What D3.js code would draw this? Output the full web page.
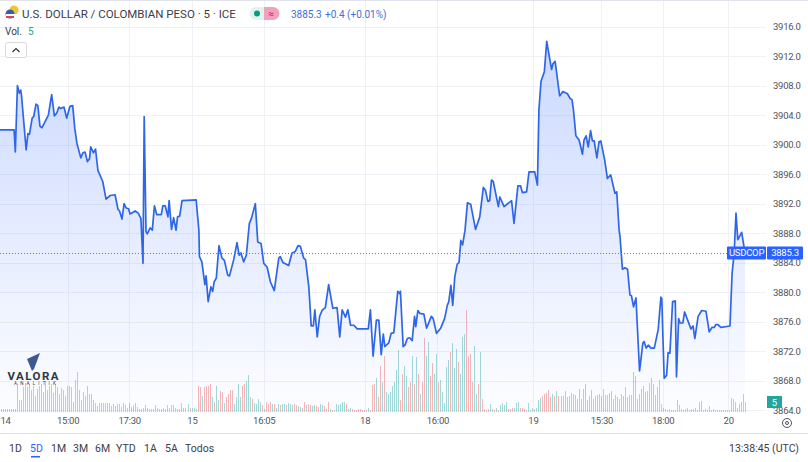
<!DOCTYPE html>
<html>
<head>
<meta charset="utf-8">
<script src="https://cdn.jsdelivr.net/npm/d3@7/dist/d3.min.js"></script>
<style>
html, body { margin: 0; padding: 0; background: #fff; }
svg { display: block; }
text { font-family: Roboto, "Open Sans", sans-serif; fill: #3a3e4a; }
.grid line { stroke: #eff1f6; stroke-width: 1; }
.axis path, .axis line { display: none; }
.axis text { font-size: 9.5px; letter-spacing: -0.25px; fill: #50535e; font-family: Roboto, sans-serif; }
</style>
</head>
<body>
<svg id="chart" width="808" height="462"></svg>
<script>
// close prices, position is counted in slots along the time axis
var priceSlots = [
0,4.7,5.1,5.8,6.4,6.9,7.2,8.7,9.3,9.8,10.7,11.2,12,12.6,13.3,14,16.1,17.2,18.1,18.9,
19.6,20.2,21.3,22.2,23.3,24.2,24.9,25.6,26.9,27.6,28.3,29.1,29.8,30.2,31.1,31.8,32.6,34.2,35.3,36.7,
38.3,39.3,39.8,40.6,41.3,42,42.8,43.3,45,46,46.9,47.6,48,48.6,49,50,50.7,51.4,52.2,53.7,
54.2,55,55.9,56.3,57.1,57.8,58.6,59.1,59.8,60.6,65.3,66.2,66.4,67.2,68.2,68.6,69.3,70.2,70.8,71.3,
72,72.9,73.9,74.7,75.8,76.4,77.8,78.9,79.6,80.2,81.1,82,83,83.7,85,85.8,86.9,87.8,88.9,90,
91.3,92.8,93.3,94.2,96.1,97.2,98.3,99.2,100,101.1,101.7,102.8,103.6,104.3,104.8,105.6,106.4,107.2,108.3,109.4,
110.8,112.2,113.1,113.9,115,115.8,116.7,117.8,118.9,122.6,123.3,124.2,125.3,126.1,126.9,127.6,128.1,129.4,130.2,131.1,
132.4,133,133.3,134.2,134.8,135.6,136.4,137.2,138,138.4,139.1,139.8,141.1,142,143.6,144.2,145.3,146.7,148,148.9,
149.4,150.1,150.7,151.4,152.2,152.8,153.4,154,154.8,155.6,156.7,158.3,159.7,160.9,161.6,162.4,163,163.6,164.2,165.9,
166.4,167.8,170.3,171.1,172.4,173.3,173.9,175.3,176.1,178,178.9,179.4,180.1,181.2,182,183.6,184.1,184.8,186.3,187.4,
188.9,189.7,190.4,190.9,191.7,192.8,193.9,194.4,195.1,195.8,196.6,197.2,197.8,198.7,199.4,200,201.3,202.2,203.3,204.7,
205.3,206.1,206.4,207.2,208,208.9,209.7,210.2,210.9,211.7,212.9,214,214.4,215.1,215.8,216.7,217.8,219.1,220,220.3,
221.1,221.9,222.4,223,223.9,224.8,225.2,225.9,226.4,227.3,227.9,230,230.7,231.3,232.4,233.6,235,236.1,237,237.8,
238.3,238.9,240,243,243.7,244.4,245,245.6,246.9,248
]
var priceCloses = [
3902,3902,3899,3908,3907,3907.4,3906.5,3899.3,3901.5,3901.4,3903.6,3903.8,3905.5,3905.3,3902.5,3902.3,3904,3906.8,3903.9,3904.3,
3905.1,3904.9,3905.1,3903.6,3905.2,3905.3,3902.2,3900.2,3898.2,3898.9,3899,3897.7,3898.1,3899.7,3898.9,3899.4,3896.5,3895,3892.6,3893.1,
3893.2,3891.2,3891,3889.9,3892,3891.4,3891.3,3890.6,3891,3890.7,3890,3883.9,3903.8,3888.2,3887.9,3888.7,3888.4,3891.7,3890.5,3890.5,
3891.7,3891.7,3890.2,3892.4,3888.5,3890.1,3888.4,3890.2,3890.3,3892.4,3892.5,3888.4,3884.8,3884.1,3881,3882.2,3878.7,3880.7,3880.1,3881.4,
3881.9,3886.3,3884.6,3884.3,3882.3,3882.2,3884.4,3886.7,3885,3885.3,3884.1,3885,3889.3,3890,3892,3886.8,3886.6,3883.9,3883.4,3881.4,
3880.2,3884.6,3884.8,3884,3883.6,3885.3,3885.5,3886.3,3886.2,3884.6,3884.4,3880.7,3875.4,3875.4,3877.6,3873.9,3876.7,3877.5,3877.9,3881,
3877.8,3877.9,3873.9,3877.6,3876.6,3877.6,3875.5,3875.5,3875,3875,3877.6,3871.3,3876.2,3876.2,3871.5,3874.3,3872.6,3873.1,3874.4,3874.5,
3880.1,3879.8,3880.1,3872.6,3872.8,3873.7,3873.8,3873.4,3876.7,3875.3,3877.5,3877.1,3877,3875.1,3876.7,3876.4,3874.4,3875.1,3876.4,3878.2,
3878.7,3880.9,3878.2,3882.1,3883.8,3884,3887,3886.4,3888.4,3892.1,3891.9,3888.5,3890.2,3894.2,3893.8,3892.3,3892.4,3895.2,3895,3891.6,
3892.9,3891.6,3892.4,3889.3,3894.4,3894.4,3893.5,3893.6,3896.3,3896.3,3894.5,3904.7,3908.6,3909.9,3914,3910.2,3911,3911.3,3906.6,3907.2,
3906.9,3906.3,3906.1,3904.7,3901.2,3900.6,3898.7,3900.6,3901.2,3899.7,3901.9,3900.5,3900.5,3898.2,3900.4,3900.5,3897.9,3895.4,3895.9,3893.4,
3893.6,3888.4,3887.5,3883.1,3883.3,3883.1,3879.6,3879.5,3878,3879.2,3869.3,3873.1,3873.3,3872.4,3872.8,3872.4,3872.4,3874.9,3879.3,3879.1,
3868.3,3868.7,3871.8,3871.7,3878.7,3878.8,3868.5,3876.4,3875.8,3875.8,3877.3,3875,3875.4,3873.7,3876.7,3877.5,3877.4,3874.6,3875.2,3875.2,
3875.6,3875.6,3875.2,3875.4,3882.5,3885.3,3890.7,3887.1,3888.1,3885.3
]

var volumes = [
1.5,1.5,1.5,1.5,1.5,1.5,1.5,1.5,
14,6,6,12.5,14.5,12.5,14,11,13,8,11.5,13,14,10,15.5,11,13,14,9.5,14,12.5,9,12,11,8,13,13,12.5,5,16,20,11,6,10,8,13,9,9,6,4.5,3,4.5,4.5,4.5,4.5,4.5,4.5,3,4,3,4,4,2.5,4.5,3.5,2,4.5,
2.5,3.5,4.5,2.5,1.5,1.5,2,3.5,2,1.5,1.5,1.5,3.5,2,1.5,1.5,2,1.5,3.5,2,3.5,3.5,2,1.5,1.5,4.5,2,2,4,2,2,2,1.5,13,12.5,8,12.5,13,13,14,7.5,5,13,6,10.5,10,4.5,7.5,9,11,11,4,7.5,14,7.5,13,14,15.5,18.5,7.5,6.5,4.5,4,6.5,5,
3.5,1.5,5,4,5,4,4,2,4,3.5,4,4,3.5,4.5,4,3.5,4,3.5,3,2.5,2,5,3.5,4,3.5,3,3.5,3,2.5,4,3.5,3,1.5,5,1.5,1,1,4,3.5,4,5,5,4,1.5,2,1.5,1,1,1.5,1.5,1,1,1,2,1,
13.5,14,17,7.5,23,15,28,10,9,10,13,15,21,31,6,19,23,18,12.5,15,28,14,27.5,19,9,15,37,28,35,18,24.5,19,29,15,16,10,4.5,22.5,26,30,34.5,22,31.5,25,19,37.5,39,51,28,29,15,33,9,14,30,6.5,1.5,1,1.5,4,1.5,1,2,1,
3.5,4.5,3.5,5,1.5,1.5,2,2,4.5,5,2,2,1.5,1,4.5,1,2,1.5,2,6,7,8,9,9.5,11,7.5,9,8,10.5,8,8,8,10.5,7.5,8,9.5,9,8.5,6.5,11.5,6.5,11.5,14,6,8,11,6.5,8,8.5,9,8,11.5,8.5,8.5,9.5,10.5,6.5,8.5,7.5,6.5,
9,8,12.5,7.5,8.5,8.5,20,18,6.5,9,11.5,13,10,10.5,14.5,17,14,8.5,12.5,16,4,2,1.5,1,1.5,1,1,1,6,3.5,1.5,1,1.5,2,1,1.5,1.5,2,1,5,5.5,1,1.5,1,3,1,1.5,1,1,1,1,1,1,1,1,7,6.5,5,2,4,5,9,5
]
// g = up bar, r = down bar, one letter per volume
var volSides = [
"ggggg ggg",
"grrrr grgrg grrgg rggrg ggrgg rrrgr rrgrg rrggg grgrg rgrrg rrrgg rg",
"rgrgr rgggr grggr grgrg rrrgr grggr gggrr grrrr grggr rgrrr rgggg rrggg rgggg",
"rgrrr grggr ggrgg grrgg rrgrr ggrrg grrrg grggg ggrgg rrrrr rrggr",
"rrgrr grggg ggggr rggrr grgrg rrggr rggrg ggggr gggrg ggrrr rggrg rrrrg grgr",
"ggggr rrggg rrrrg ggrgg grrrr rgrgr rrrgg rrrgg rgggg grrrg grrrg grrgg",
"grgrr rrggr ggrrg grrgg rrggg rgggr rrgrr rrggg gggrr ggrgg rrggr gggrr grg"
].join("").replace(/\s/g, "")

var priceTicks = [3864,3868,3872,3876,3880,3884,3888,3892,3896,3900,3904,3908,3912,3916]
var timeLabels = ["14","15:00","17:30","15","16:05","18","16:00","19","15:30","18:00","20"]
var timeSlots = [1.7,22.5,43,63.9,87.8,121.4,145.6,177.4,200.2,220.6,242.4]
var rangeLabels = ["1D","5D","1M","3M","6M","YTD","1A","5A","Todos"]
var lastPrice = 3885.3

var x = d3.scaleLinear().domain([0, 248]).range([0, 745])
var y = d3.scaleLinear().domain([3864, 3916]).range([410, 26.7])
var xVol = d3.scaleLinear().domain([0, volumes.length - 1]).range([1, 745])
var yVol = d3.scaleLinear().domain([0, 51.5]).range([412, 309])

var svg = d3.select("#chart")

//Gradient under the line
var grad = svg.append("defs").append("linearGradient")
  .attr("id", "fade").attr("gradientUnits", "userSpaceOnUse")
  .attr("x1", 0).attr("x2", 0).attr("y1", 42).attr("y2", 412)
grad.append("stop").attr("offset", 0).attr("stop-color", "#2962ff").attr("stop-opacity", 0.24)
grad.append("stop").attr("offset", 1).attr("stop-color", "#2962ff").attr("stop-opacity", 0.01)

//Grid
svg.append("g").attr("class", "grid").selectAll("line").data(priceTicks).enter().append("line")
  .attr("x1", 0).attr("x2", 766).attr("y1", d => Math.round(y(d)) + 0.5).attr("y2", d => Math.round(y(d)) + 0.5)
svg.append("g").attr("class", "grid").selectAll("line").data(timeSlots.slice(1)).enter().append("line")
  .attr("y1", 0).attr("y2", 412).attr("x1", d => Math.round(x(d)) + 0.5).attr("x2", d => Math.round(x(d)) + 0.5)

//Frame
svg.append("line").attr("x1", 0).attr("x2", 808).attr("y1", 0.5).attr("y2", 0.5).attr("stroke", "#e0e3eb")
svg.append("line").attr("x1", 0).attr("x2", 808).attr("y1", 433.5).attr("y2", 433.5).attr("stroke", "#e0e3eb")

//Volume
svg.append("g").selectAll("rect").data(volumes).enter().append("rect")
  .attr("x", (d, i) => Math.round(xVol(i)))
  .attr("width", 1)
  .attr("y", d => yVol(d))
  .attr("height", d => yVol(0) - yVol(d))
  .attr("fill", (d, i) => volSides[i] == "r" ? "#ef5350" : "#26a69a")
  .attr("opacity", 0.42)

//Price area and line
var points = priceSlots.map((s, i) => [s, priceCloses[i]])
svg.append("path").datum(points)
  .attr("fill", "url(#fade)")
  .attr("d", d3.area().x(d => x(d[0])).y0(412).y1(d => y(d[1])))
svg.append("path").datum(points)
  .attr("fill", "none")
  .attr("stroke", "#2f66e8")
  .attr("stroke-width", 1.7)
  .attr("stroke-linejoin", "round")
  .attr("d", d3.line().x(d => x(d[0])).y(d => y(d[1])))

//Last price line
svg.append("line").attr("x1", 0).attr("x2", 727)
  .attr("y1", Math.round(y(lastPrice)) + 0.5).attr("y2", Math.round(y(lastPrice)) + 0.5)
  .attr("stroke", "#787b86").attr("stroke-width", 1).attr("stroke-dasharray", "1 2")

//Axes
var yAxis = d3.axisRight(y).tickValues(priceTicks).tickFormat(d => d.toFixed(1)).tickSize(0).tickPadding(0)
svg.append("g").attr("class", "axis").attr("transform", "translate(773,0)").call(yAxis)

var xAxis = d3.axisBottom(x).tickValues(timeSlots).tickFormat((d, i) => timeLabels[i]).tickSize(0).tickPadding(0)
svg.append("g").attr("class", "axis").attr("transform", "translate(0,417)").call(xAxis)

//Volume tag
svg.append("rect").attr("x", 767).attr("y", 396).attr("width", 15).attr("height", 12).attr("fill", "#26a69a")
svg.append("text").attr("x", 774.5).attr("y", 405.5).attr("text-anchor", "middle")
  .attr("font-size", 9.5).style("fill", "#fff").text("5")

//Last price tags
var tagY = y(lastPrice) - 6.5
svg.append("rect").attr("x", 727).attr("y", tagY).attr("width", 39).attr("height", 13).attr("rx", 1).attr("fill", "#2962ff")
svg.append("rect").attr("x", 767).attr("y", tagY).attr("width", 36).attr("height", 13).attr("rx", 1).attr("fill", "#2962ff")
svg.append("text").attr("x", 746.5).attr("y", tagY + 9.8).attr("text-anchor", "middle")
  .attr("font-size", 9.5).attr("letter-spacing", -0.25).style("fill", "#fff").text("USDCOP")
svg.append("text").attr("x", 785).attr("y", tagY + 9.8).attr("text-anchor", "middle")
  .attr("font-size", 9.5).attr("letter-spacing", -0.25).style("fill", "#fff").text("3885.3")

//Header
svg.append("circle").attr("cx", 14).attr("cy", 10).attr("r", 4.5).attr("fill", "#f2c531")
svg.append("circle").attr("cx", 10).attr("cy", 14).attr("r", 4.5).attr("fill", "#3c5ab0")
svg.append("rect").attr("x", 6).attr("y", 14).attr("width", 9).attr("height", 2).attr("fill", "#fff")
svg.append("rect").attr("x", 6).attr("y", 16).attr("width", 8).attr("height", 2).attr("fill", "#d8454a")
svg.append("text").attr("x", 22).attr("y", 17.5).attr("font-size", 11.5)
  .text("U.S. DOLLAR / COLOMBIAN PESO · 5 · ICE")

svg.append("path").attr("d", "M256 7H265V20H256A6.5 6.5 0 0 1 256 7Z").attr("fill", "#e0f3ef")
svg.append("path").attr("d", "M264 7H273A6.5 6.5 0 0 1 273 20H264Z").attr("fill", "#f2a0bb")
svg.append("circle").attr("cx", 257).attr("cy", 13.5).attr("r", 3).attr("fill", "#089981")
svg.append("text").attr("x", 271).attr("y", 17).attr("text-anchor", "middle").attr("font-size", 10)
  .style("fill", "#c2185b").text("≈")
svg.append("text").attr("x", 291).attr("y", 17.5).attr("font-size", 10)
  .style("fill", "#3f6fd8").text("3885.3")
svg.append("text").attr("x", 325).attr("y", 17.5).attr("font-size", 10)
  .style("fill", "#3f6fd8").text("+0.4 (+0.01%)")

svg.append("text").attr("x", 5).attr("y", 35).attr("font-size", 10).text("Vol.")
svg.append("text").attr("x", 28).attr("y", 35).attr("font-size", 10).style("fill", "#26a69a").text("5")
svg.append("rect").attr("x", 5.5).attr("y", 42.5).attr("width", 21).attr("height", 15).attr("rx", 2)
  .attr("fill", "#fff").attr("stroke", "#d6d8de")
svg.append("path").attr("d", "M12.5 52L16 48.5L19.5 52").attr("fill", "none").attr("stroke", "#333").attr("stroke-width", 1.2)

//Logo
svg.append("path").attr("d", "M27 359L40 353L34 369L32 371Z").attr("fill", "#3c5a90")
svg.append("text").attr("x", 7.5).attr("y", 379.5).attr("font-size", 11.5).attr("font-weight", 700)
  .attr("letter-spacing", 1.45).style("fill", "#2f3440").text("VALORA")
svg.append("text").attr("x", 14).attr("y", 385).attr("font-size", 4.5).attr("letter-spacing", 3.2)
  .style("fill", "#2f3440").text("ANALITIK")

//Range buttons
var rangeX = [9, 30, 51, 73, 95, 116, 144, 165, 185]
svg.append("g").selectAll("text").data(rangeLabels).enter().append("text")
  .attr("x", (d, i) => rangeX[i]).attr("y", 452).attr("font-size", 10.5)
  .style("fill", (d, i) => i == 1 ? "#2962ff" : "#3a3e4a")
  .text(d => d)
svg.append("rect").attr("x", 31).attr("y", 456).attr("width", 9).attr("height", 1.5).attr("fill", "#2962ff")

svg.append("text").attr("x", 799).attr("y", 452).attr("text-anchor", "end").attr("font-size", 10.5)
  .text("13:38:45 (UTC)")

//Settings icon
svg.append("circle").attr("cx", 787).attr("cy", 423).attr("r", 4.5).attr("fill", "none").attr("stroke", "#50535e")
svg.append("circle").attr("cx", 787).attr("cy", 423).attr("r", 1.5).attr("fill", "none").attr("stroke", "#50535e")
</script>
</body>
</html>
